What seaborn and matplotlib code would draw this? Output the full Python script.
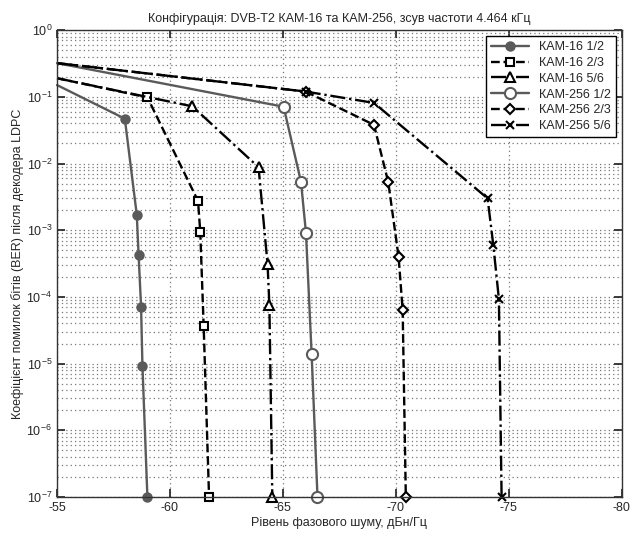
import matplotlib
matplotlib.use("Agg")
import matplotlib.pyplot as plt
import matplotlib.ticker as mticker
import seaborn as sns
import numpy as np

sns.set_theme(style="ticks")
plt.rcParams['font.family'] = ['Liberation Sans', 'DejaVu Sans']

# phase noise, dBc/Hz and BER after LDPC decoder
kam16_12_x = [-55.0, -58.0, -58.53, -58.61, -58.72, -58.78, -59.0]
kam16_12_y = [0.15, 0.047, 1.7e-3, 4.3e-4, 7.1e-5, 9.3e-6, 1e-7]

kam16_23_x = [-55.0, -59.0, -61.24, -61.34, -61.49, -61.73]
kam16_23_y = [0.19, 0.098, 2.75e-3, 9.5e-4, 3.7e-5, 1e-7]

kam16_56_x = [-55.0, -60.99, -63.92, -64.32, -64.40, -64.53]
kam16_56_y = [0.19, 0.072, 8.8e-3, 3.1e-4, 7.5e-5, 1e-7]

kam256_12_x = [-55.0, -65.03, -65.8, -66.02, -66.27, -66.53]
kam256_12_y = [0.32, 0.071, 5.3e-3, 9.1e-4, 1.4e-5, 1e-7]

kam256_23_x = [-55.0, -66.0, -69.03, -69.66, -70.12, -70.30, -70.44]
kam256_23_y = [0.32, 0.12, 0.038, 5.3e-3, 4.0e-4, 6.3e-5, 1e-7]

kam256_56_x = [-55.0, -66.0, -69.03, -74.06, -74.31, -74.56, -74.68]
kam256_56_y = [0.32, 0.12, 0.081, 3.0e-3, 6.1e-4, 9.3e-5, 1e-7]

labels = ["КАМ-16 1/2", "КАМ-16 2/3", "КАМ-16 5/6",
          "КАМ-256 1/2", "КАМ-256 2/3", "КАМ-256 5/6"]

x_ticks = [-55, -60, -65, -70, -75, -80]
y_ticks = [1e-7, 1e-6, 1e-5, 1e-4, 1e-3, 1e-2, 1e-1, 1e0]

gray = "#5a5a5a"
styles = [
    dict(color=gray, linestyle="-", marker="o", mfc=gray, mec=gray, ms=6),
    dict(color="black", linestyle="--", marker="s", mfc="white", mec="black", ms=5.5),
    dict(color="black", linestyle="-.", marker="^", mfc="white", mec="black", ms=7),
    dict(color=gray, linestyle="-", marker="o", mfc="white", mec=gray, ms=8),
    dict(color="black", linestyle="--", marker="D", mfc="white", mec="black", ms=5.5),
    dict(color="black", linestyle="-.", marker="x", mfc="black", mec="black", ms=5.5),
]
series = [(kam16_12_x, kam16_12_y), (kam16_23_x, kam16_23_y), (kam16_56_x, kam16_56_y),
          (kam256_12_x, kam256_12_y), (kam256_23_x, kam256_23_y), (kam256_56_x, kam256_56_y)]

fig = plt.figure(figsize=(6.41, 5.33), dpi=100)
ax = fig.add_axes([0.089, 0.0675, 0.881, 0.876])

for (xs, ys), lab, st in zip(series, labels, styles):
    sns.lineplot(x=xs, y=ys, ax=ax, label=lab, sort=False, estimator=None,
                 linewidth=1.7, mew=1.5, markevery=list(range(1, len(xs))),
                 clip_on=False, **st)

ax.set_yscale("log")
ax.set_xlim(-55, -80)
ax.set_ylim(1e-7, 1)
ax.xaxis.set_major_locator(mticker.FixedLocator(x_ticks))
ax.xaxis.set_major_formatter(mticker.FixedFormatter([str(t) for t in x_ticks]))
ax.yaxis.set_major_locator(mticker.FixedLocator(y_ticks))
ax.yaxis.set_major_formatter(mticker.LogFormatterSciNotation())
ax.yaxis.set_minor_locator(mticker.LogLocator(base=10, subs=np.arange(2, 10), numticks=20))
ax.yaxis.set_minor_formatter(mticker.NullFormatter())

ax.grid(True, which="major", linestyle=(0, (1, 2.5)), color="#777777", linewidth=0.9)
ax.grid(True, which="minor", axis="y", linestyle=(0, (1, 2.5)), color="#777777", linewidth=0.9)
ax.tick_params(which="both", direction="in", top=True, right=True, labelsize=9)
ax.tick_params(which="minor", length=0)
for sp in ax.spines.values():
    sp.set_linewidth(1.0)
    sp.set_color("#333333")

ax.set_title("Конфігурація: DVB-T2 КАМ-16 та КАМ-256, зсув частоти 4.464 кГц", fontsize=9, pad=6)
ax.set_xlabel("Рівень фазового шуму, дБн/Гц", fontsize=9, labelpad=2)
ax.set_ylabel("Коефіцієнт помилок бітів (BER) після декодера LDPC", fontsize=9, labelpad=2)

leg = ax.legend(loc="upper right", fontsize=9, frameon=True, fancybox=False,
                edgecolor="black", framealpha=1, borderpad=0.4, labelspacing=0.3,
                handlelength=3.0)
leg.get_frame().set_linewidth(1.0)

fig.savefig("out.png", dpi=100)
